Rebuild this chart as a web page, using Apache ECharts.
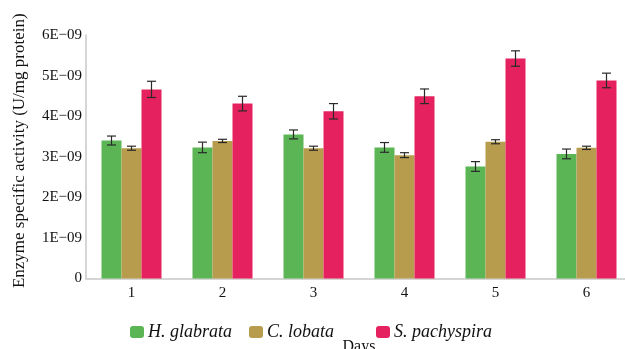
<!DOCTYPE html>
<html>
<head>
<meta charset="utf-8">
<script src="https://cdn.jsdelivr.net/npm/echarts@6/dist/echarts.min.js"></script>
<style>html,body{margin:0;padding:0;background:#fff}#c{width:625px;height:349px}</style>
</head>
<body>
<div id="c"></div>
<script>
var days = ['1', '2', '3', '4', '5', '6'];
var seriesNames = ['H. glabrata', 'C. lobata', 'S. pachyspira'];
var hGlabrata = [3.40e-9, 3.23e-9, 3.55e-9, 3.23e-9, 2.76e-9, 3.07e-9];
var cLobata = [3.21e-9, 3.39e-9, 3.21e-9, 3.04e-9, 3.37e-9, 3.22e-9];
var sPachyspira = [4.66e-9, 4.31e-9, 4.12e-9, 4.49e-9, 5.42e-9, 4.88e-9];
var hGlabrataErr = [0.11e-9, 0.13e-9, 0.11e-9, 0.12e-9, 0.12e-9, 0.12e-9];
var cLobataErr = [0.05e-9, 0.04e-9, 0.05e-9, 0.06e-9, 0.05e-9, 0.04e-9];
var sPachyspiraErr = [0.20e-9, 0.18e-9, 0.19e-9, 0.18e-9, 0.19e-9, 0.18e-9];
var yTicks = [0, 1e-9, 2e-9, 3e-9, 4e-9, 5e-9, 6e-9];

var colors = ['#5bb554', '#b79c4d', '#e5225f'];
var values = [hGlabrata, cLobata, sPachyspira];
var errs = [hGlabrataErr, cLobataErr, sPachyspiraErr];
var BAR_W = 20;
var FONT = '"Liberation Serif", "DejaVu Serif", serif';

var chart = echarts.init(document.getElementById('c'), null, {renderer: 'canvas'});

var series = [];
values.forEach(function (vals, i) {
  series.push({
    name: seriesNames[i],
    type: 'bar',
    data: vals,
    barWidth: BAR_W,
    barGap: '0%',
    itemStyle: {color: colors[i]},
    z: 2
  });
});
values.forEach(function (vals, i) {
  var data = vals.map(function (v, k) { return [k, v - errs[i][k], v + errs[i][k]]; });
  series.push({
    type: 'custom',
    data: data,
    z: 5,
    silent: true,
    encode: {x: 0, y: [1, 2]},
    renderItem: function (params, api) {
      var idx = api.value(0);
      var lo = api.coord([idx, api.value(1)]);
      var hi = api.coord([idx, api.value(2)]);
      var off = (i - 1) * BAR_W;
      var x = lo[0] + off;
      var cap = 4.5;
      var style = {stroke: '#2a2a2a', lineWidth: 1.2};
      return {
        type: 'group',
        children: [
          {type: 'line', shape: {x1: x, y1: hi[1], x2: x, y2: lo[1]}, style: style},
          {type: 'line', shape: {x1: x - cap, y1: hi[1], x2: x + cap, y2: hi[1]}, style: style},
          {type: 'line', shape: {x1: x - cap, y1: lo[1], x2: x + cap, y2: lo[1]}, style: style}
        ]
      };
    }
  });
});

function legend(name, left) {
  return {
    data: [name],
    left: left,
    top: 323,
    padding: 0,
    itemWidth: 14,
    itemHeight: 12,
    itemGap: 4,
    selectedMode: false,
    textStyle: {fontFamily: FONT, fontStyle: 'italic', fontSize: 18, color: '#111', padding: [0, 0, 0, -1]}
  };
}

chart.setOption({
  animation: false,
  backgroundColor: '#fff',
  color: colors,
  grid: {left: 86, width: 546, top: 35, height: 243.5, containLabel: false, outerBoundsMode: 'none'},
  legend: [legend(seriesNames[0], 130), legend(seriesNames[1], 249), legend(seriesNames[2], 376)],
  xAxis: {
    type: 'category',
    data: days,
    name: 'Days',
    nameLocation: 'middle',
    nameGap: 60,
    nameTextStyle: {fontFamily: FONT, fontSize: 16, color: '#111'},
    axisLine: {lineStyle: {color: '#c8c8c8', width: 1.5}},
    axisTick: {show: false},
    axisLabel: {fontFamily: FONT, fontSize: 15, color: '#111', margin: 7}
  },
  yAxis: {
    type: 'value',
    min: 0,
    max: 6e-9,
    interval: 1e-9,
    name: 'Enzyme specific activity (U/mg protein)',
    nameLocation: 'middle',
    nameGap: 58,
    nameTextStyle: {fontFamily: FONT, fontSize: 17, color: '#111', padding: [0, 0, 0, 12]},
    axisLine: {show: true, lineStyle: {color: '#c8c8c8', width: 1.5}},
    axisTick: {show: false},
    splitLine: {show: false},
    axisLabel: {
      fontFamily: FONT, fontSize: 15, color: '#111', margin: 4,
      formatter: function (v) {
        var n = Math.round(v * 1e9);
        return n === 0 ? '0' : n + 'E\u221209';
      }
    }
  },
  series: series
});
</script>
</body>
</html>
